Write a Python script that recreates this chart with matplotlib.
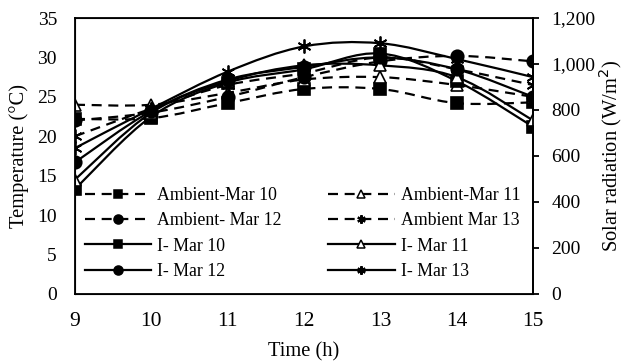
import matplotlib
matplotlib.use("Agg")
import matplotlib.pyplot as plt
from matplotlib.path import Path
from matplotlib.patches import PathPatch
from matplotlib.lines import Line2D
from matplotlib.ticker import FuncFormatter

plt.rcParams['font.family'] = ['Liberation Serif', 'DejaVu Serif']

hours = [9, 10, 11, 12, 13, 14, 15]

amb_mar10 = [22.2, 22.3, 24.2, 26.0, 26.0, 24.2, 24.3]
amb_mar11 = [24.0, 24.0, 25.5, 27.2, 27.5, 26.5, 25.0]
amb_mar12 = [22.0, 23.0, 25.0, 27.5, 29.5, 30.2, 29.5]
amb_mar13 = [20.0, 23.5, 26.5, 28.0, 30.0, 28.5, 26.5]
i_mar10 = [13.3, 22.5, 26.8, 28.5, 30.5, 27.0, 21.2]
i_mar11 = [14.5, 23.0, 27.0, 29.0, 29.0, 27.5, 22.0]
i_mar12 = [16.7, 23.2, 27.2, 28.8, 30.0, 28.5, 25.0]
i_mar13 = [18.5, 23.5, 28.2, 31.4, 31.8, 29.8, 27.5]

labels = ['Ambient-Mar 10', 'Ambient-Mar 11', 'Ambient- Mar 12', 'Ambient Mar 13',
          'I- Mar 10', 'I- Mar 11', 'I- Mar 12', 'I- Mar 13']
series = [amb_mar10, amb_mar11, amb_mar12, amb_mar13, i_mar10, i_mar11, i_mar12, i_mar13]


def smooth_path(x, y):
    # excel-like smoothed line: cubic bezier through the points
    verts = [(x[0], y[0])]
    codes = [Path.MOVETO]
    n = len(x)
    for i in range(n - 1):
        x0, y0 = (x[i - 1], y[i - 1]) if i > 0 else (x[i], y[i])
        x3, y3 = (x[i + 2], y[i + 2]) if i + 2 < n else (x[i + 1], y[i + 1])
        c1 = (x[i] + (x[i + 1] - x0) / 6, y[i] + (y[i + 1] - y0) / 6)
        c2 = (x[i + 1] - (x3 - x[i]) / 6, y[i + 1] - (y3 - y[i]) / 6)
        verts += [c1, c2, (x[i + 1], y[i + 1])]
        codes += [Path.CURVE4] * 3
    return Path(verts, codes)


fig, ax = plt.subplots(figsize=(6.25, 3.61), dpi=100)
fig.subplots_adjust(left=0.12, right=0.853, top=0.95, bottom=0.186)

markers = ['s', '^', 'o', '*', 's', '^', 'o', '*']
leg_ms = {'s': 5.5, '^': 5.5, 'o': 6.5}
handles = []
for k, (lab, ys) in enumerate(zip(labels, series)):
    dashed = k < 4
    ls = (0, (4.5, 3)) if dashed else '-'
    mk = markers[k]
    mfc = 'white' if mk == '^' else 'black'
    lw = 1.6
    patch = PathPatch(smooth_path(hours, ys), facecolor='none', edgecolor='black',
                      lw=lw, linestyle=ls, zorder=2)
    ax.add_patch(patch)
    if mk == '*':
        ax.plot(hours, ys, linestyle='none', marker=(6, 2, 0), ms=10, mec='black',
                mew=1.3, zorder=3)
        h = Line2D([], [], color='black', lw=lw, linestyle=ls, marker=(6, 2, 0),
                   ms=6, mew=1.6)
    else:
        ax.plot(hours, ys, linestyle='none', marker=mk, ms=9, mfc=mfc, mec='black',
                mew=1.2, zorder=3)
        h = Line2D([], [], color='black', lw=lw, linestyle=ls, marker=mk,
                   ms=leg_ms[mk], mfc=mfc, mec='black', mew=1.1)
    handles.append(h)

ax.set_xlim(9, 15)
ax.set_ylim(0, 35)
ax.set_xticks(hours)
ax.set_yticks(range(0, 36, 5))
ax.tick_params(axis='y', labelsize=14, length=0, pad=13)
ax.tick_params(axis='x', labelsize=15.5, length=0, pad=13)
for s in ax.spines.values():
    s.set_linewidth(1.3)
ax.set_xlabel('Time (h)', fontsize=14.8, labelpad=8)
ax.set_ylabel('Temperature (°C)', fontsize=14.8, labelpad=6)

ax2 = ax.twinx()
ax2.set_ylim(0, 1200)
ax2.set_yticks(range(0, 1201, 200))
ax2.yaxis.set_major_formatter(FuncFormatter(lambda v, p: f'{int(v):,}'))
ax2.tick_params(axis='y', labelsize=14, direction='out', length=4, width=1.3, pad=9)
ax2.spines['right'].set_linewidth(1.3)
ax2.set_ylabel('Solar radiation (W/m$^2$)', fontsize=14.8, labelpad=1)

# reorder so that ncol=2 fills rows left to right
order = [0, 2, 4, 6, 1, 3, 5, 7]
leg = ax.legend([handles[i] for i in order], [labels[i] for i in order], ncol=2,
                loc='lower left', bbox_to_anchor=(-0.014, -0.008), frameon=False,
                fontsize=12.8, handlelength=3.75, handletextpad=0.34, columnspacing=2.6,
                labelspacing=0.47)
leg.set_zorder(5)

plt.savefig('out.png', dpi=100)
